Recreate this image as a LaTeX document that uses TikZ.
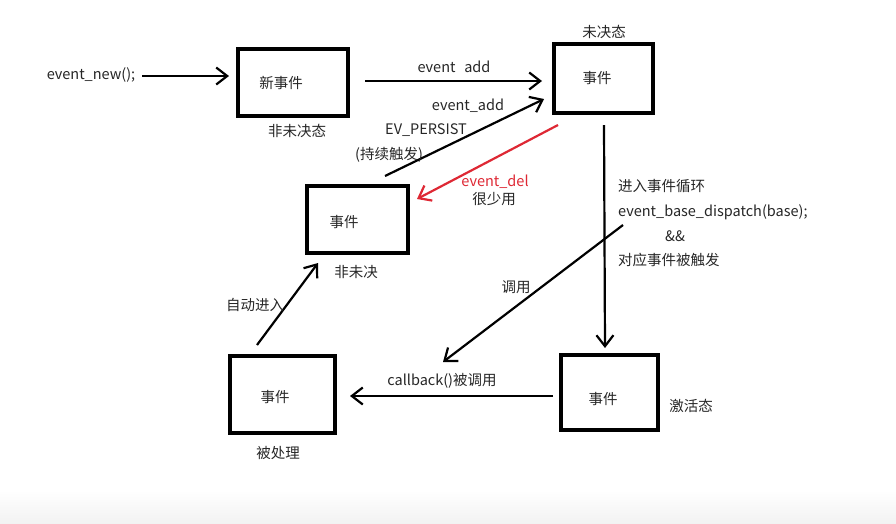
\documentclass[tikz,border=0pt]{standalone}
\usepackage{fontspec}
\setmainfont{Noto Sans CJK SC}
\usetikzlibrary{arrows.meta}
\definecolor{delred}{RGB}{222,40,52}
\begin{document}
\begin{tikzpicture}[x=1pt,y=-1pt,
  box/.style={draw=black,line width=4pt,inner sep=0pt,rectangle},
  lbl/.style={inner sep=0pt,font=\fontsize{14.5}{16}\selectfont,text=black!85},
  conn/.style={line width=2.2pt,-{Straight Barb[length=11pt,width=17pt,line width=2.2pt]}},
  redconn/.style={conn,draw=delred}]
\useasboundingbox (0,0) rectangle (896,523);
\shade[top color=white,bottom color=black!5,draw=none] (0,490) rectangle (896,523);
% boxes
\node[box,minimum width=110pt,minimum height=67pt] (A) at (293,82.5) {};
\node[box,minimum width=99pt,minimum height=69pt] (B) at (603.5,78.5) {};
\node[box,minimum width=101pt,minimum height=67pt] (C) at (357.5,219.5) {};
\node[box,minimum width=105pt,minimum height=77pt] (D) at (282.5,394.5) {};
\node[box,minimum width=97pt,minimum height=75pt] (E) at (609.5,392.5) {};
% box texts
\node[lbl] (At) at (281,83) {新事件};
\node[lbl] (Bt) at (597,78) {事件};
\node[lbl] (Ct) at (344,222) {事件};
\node[lbl] (Dt) at (275,397) {事件};
\node[lbl] (Et) at (603,399) {事件};
% state labels
\node[lbl] (Bs) at (604,32) {未决态};
\node[lbl] (As) at (297,131) {非未决态};
\node[lbl] (Cs) at (356,272) {非未决};
\node[lbl] (Ds) at (278,453) {被处理};
\node[lbl] (Es) at (691,406) {激活态};
% start text
\node[lbl] (N) at (91,75) {event\_new();};
% connector endpoints
\coordinate (n1) at (142,76); \coordinate (n2) at (229,76);
\coordinate (ab1) at (365,81); \coordinate (ab2) at (542,81);
\coordinate (cb1) at (385,176); \coordinate (cb2) at (544,99);
\coordinate (bc1) at (558,125); \coordinate (bc2) at (417,199);
\coordinate (be1) at (604,125); \coordinate (be2) at (605,348);
\coordinate (cl1) at (623,225); \coordinate (cl2) at (443,362);
\coordinate (ed1) at (553,396); \coordinate (ed2) at (350,396);
\coordinate (dc1) at (257,345); \coordinate (dc2) at (318,263);
% connectors
\draw[conn] (n1) -- (n2);
\draw[conn] (ab1) -- (ab2);
\draw[conn] (cb1) -- (cb2);
\draw[redconn] (bc1) -- (bc2);
\draw[conn] (be1) -- (be2);
\draw[conn] (cl1) -- (cl2);
\draw[conn] (ed1) -- (ed2);
\draw[conn] (dc1) -- (dc2);
% connector labels
\node[lbl] (L1) at (454,67) {event\hspace{0.6em}add};
\node[lbl] (L2) at (468,106) {event\_add};
\node[lbl] (L3) at (426,130) {EV\_PERSIST};
\node[lbl] (L4) at (389,155) {(持续触发)};
\node[lbl,text=delred] (L5) at (495,182) {event\_del};
\node[lbl] (L6) at (494,199) {很少用};
\node[lbl] (L7) at (255,305) {自动进入};
\node[lbl] (L8) at (516,287) {调用};
\node[lbl] (L9) at (442,381) {callback()被调用};
\node[lbl,anchor=west] (R1) at (618,186) {进入事件循环};
\node[lbl,anchor=west] (R2) at (618,212) {event\_base\_dispatch(base);};
\node[lbl,anchor=west] (R3) at (665,236) {\&\&};
\node[lbl,anchor=west] (R4) at (618,260) {对应事件被触发};
\end{tikzpicture}
\end{document}
